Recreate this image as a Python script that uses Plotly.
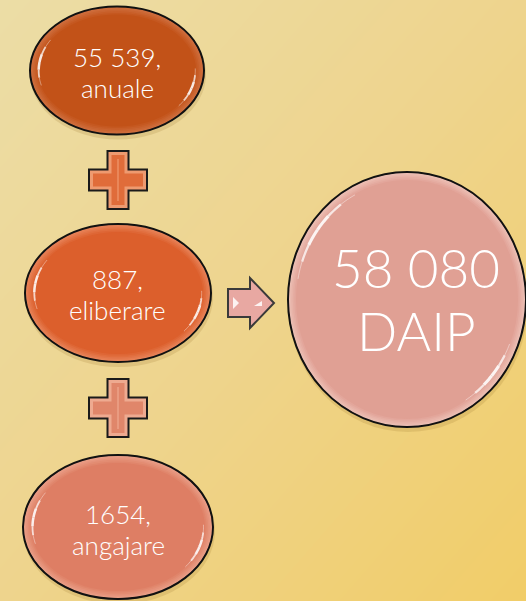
import numpy as np
import plotly.graph_objects as go

# ---- data (text content) ----
part_values = ["55 539,", "887,", "1654,"]
part_labels = ["anuale", "eliberare", "angajare"]
total_value = "58 080"
total_label = "DAIP"

W, H = 526, 601

# ---- layout geometry / styles ----
ellipses = [  # cx, cy, rx, ry, fill, rim
    (117, 70.5, 87, 64, "#C25218", "#D07040"),
    (118, 293, 93, 69, "#DC5F2C", "#E8845A"),
    (118, 527, 95, 72, "#DE7E64", "#EAA088"),
]
big = (407, 299.5, 119, 127.5, "#E0A094", "#EDC0B6")
plus_centers = [(118, 180, "#E06C3A", "#EE9A70"), (118, 408, "#E0866A", "#EEAA90")]
plus_size, plus_arm = 58, 21
arrow_box = (228, 274, 278, 328)

fig = go.Figure()

# background gradient (diagonal)
fig.add_trace(go.Heatmap(
    x=[0, W], y=[0, H], z=[[0, 0.5], [0.5, 1]], zsmooth="best",
    colorscale=[[0, "#ECDDA6"], [0.5, "#EED48D"], [1, "#F1CD68"]],
    showscale=False, hoverinfo="skip"))

shapes = []

def ell(cx, cy, rx, ry, fill, line_w=0, line_c="black"):
    return dict(type="circle", xref="x", yref="y", x0=cx - rx, x1=cx + rx,
                y0=cy - ry, y1=cy + ry, fillcolor=fill,
                line=dict(width=line_w, color=line_c), layer="above")

def blend(c1, c2, t):
    a = [int(c1[i:i + 2], 16) for i in (1, 3, 5)]
    b = [int(c2[i:i + 2], 16) for i in (1, 3, 5)]
    return "#%02x%02x%02x" % tuple(round(a[k] + (b[k] - a[k]) * t) for k in range(3))

def arc(cx, cy, rx, ry, k, a0, a1, width, op):
    # tapered highlight: several segments with varying width
    n = 6
    edges = np.linspace(a0, a1, n + 1)
    for j in range(n):
        t = np.radians(np.linspace(edges[j], edges[j + 1], 6))
        xs = cx + k * rx * np.cos(t)
        ys = cy - k * ry * np.sin(t)
        f = np.sin(np.pi * (j + 0.5) / n)
        path = "M " + " L ".join(f"{x:.2f},{y:.2f}" for x, y in zip(xs, ys))
        shapes.append(dict(type="path", path=path, xref="x", yref="y",
                           line=dict(color=f"rgba(255,255,255,{op * (0.4 + 0.6 * f):.2f})",
                                     width=max(0.8, width * f)), layer="above"))

def draw_bubble(cx, cy, rx, ry, fill, rim, gloss):
    shapes.append(ell(cx + 1, cy + 4, rx + 1, ry + 1, "rgba(150,110,40,0.18)"))
    shapes.append(ell(cx, cy, rx, ry, rim, 2, "#111111"))
    steps = 5
    for i in range(1, steps + 1):
        d = i * 1.6
        shapes.append(ell(cx, cy, rx - d, ry - d, blend(rim, fill, i / steps)))
    for (k, a0, a1, w, op) in gloss:
        arc(cx, cy, rx, ry, k, a0, a1, w, op)

small_gloss = [(0.9, 148, 195, 2.6, 0.9), (0.9, -38, 2, 2.6, 0.9)]
big_gloss = [(0.93, 118, 170, 3.2, 0.9), (0.93, -58, -22, 3.2, 0.9)]
for (cx, cy, rx, ry, fill, rim) in ellipses:
    draw_bubble(cx, cy, rx, ry, fill, rim, small_gloss)
draw_bubble(*big, big_gloss)

def plus_path(cx, cy, s, a):
    h, t = s / 2, a / 2
    pts = [(-t, -h), (t, -h), (t, -t), (h, -t), (h, t), (t, t), (t, h), (-t, h),
           (-t, t), (-h, t), (-h, -t), (-t, -t)]
    return "M " + " L ".join(f"{cx + px},{cy + py}" for px, py in pts) + " Z"

for (cx, cy, fill, rim) in plus_centers:
    shapes.append(dict(type="path", path=plus_path(cx, cy, plus_size, plus_arm),
                       fillcolor=rim, line=dict(color="#1a1a1a", width=2), layer="above"))
    shapes.append(dict(type="path", path=plus_path(cx, cy, plus_size - 8, plus_arm - 8),
                       fillcolor=fill, line=dict(width=0), layer="above"))
    shapes.append(dict(type="line", x0=cx, x1=cx, y0=cy - plus_size / 2 + 8, y1=cy + plus_size / 2 - 8,
                       line=dict(color=rim, width=1.2), layer="above"))

# arrow
x0, x1, y0, y1 = arrow_box
mx = (x0 + x1) / 2 - 1
my = (y0 + y1) / 2
bh = 14
apath = (f"M {x0},{my - bh} L {mx},{my - bh} L {mx},{y0} L {x1},{my} L {mx},{y1} "
         f"L {mx},{my + bh} L {x0},{my + bh} Z")
shapes.append(dict(type="path", path=apath, fillcolor="#E8A8A2",
                   line=dict(color="#3a3a3a", width=2), layer="above"))
shapes.append(dict(type="path", path=f"M {x0 + 5},{my - 6} L {x0 + 11},{my} L {x0 + 5},{my + 6} Z",
                   fillcolor="rgba(255,255,255,0.85)", line=dict(width=0), layer="above"))
shapes.append(dict(type="path", path=f"M {mx + 4},{my + 3} L {mx + 12},{my - 2} L {mx + 12},{my + 3} Z",
                   fillcolor="rgba(255,255,255,0.85)", line=dict(width=0), layer="above"))

# text
font_small = dict(family="Lato, 'Open Sans', sans-serif", size=26, color="white", weight=300)
font_big = dict(family="Lato, 'Open Sans', sans-serif", size=53, color="white", weight=300)
line_pos = [(117, 57, 88), (117, 279, 310), (118, 514, 545)]
ann = []
for (x, ya, yb), v, lab in zip(line_pos, part_values, part_labels):
    ann.append(dict(x=x, y=ya, text=v, showarrow=False, font=font_small, xref="x", yref="y"))
    ann.append(dict(x=x, y=yb, text=lab, showarrow=False, font=font_small, xref="x", yref="y"))
ann.append(dict(x=416, y=267, text=total_value, showarrow=False, font=font_big, xref="x", yref="y"))
ann.append(dict(x=416, y=330, text=total_label, showarrow=False, font=font_big, xref="x", yref="y"))

fig.update_layout(
    width=W, height=H, margin=dict(l=0, r=0, t=0, b=0),
    paper_bgcolor="#EDD79A", plot_bgcolor="#EDD79A",
    xaxis=dict(range=[0, W], visible=False, fixedrange=True),
    yaxis=dict(range=[H, 0], visible=False, fixedrange=True),
    shapes=shapes, annotations=ann, showlegend=False,
)
fig.write_html("out.html", config={"displayModeBar": False},
               post_script="document.body.style.margin='0';document.body.style.overflow='hidden';")
